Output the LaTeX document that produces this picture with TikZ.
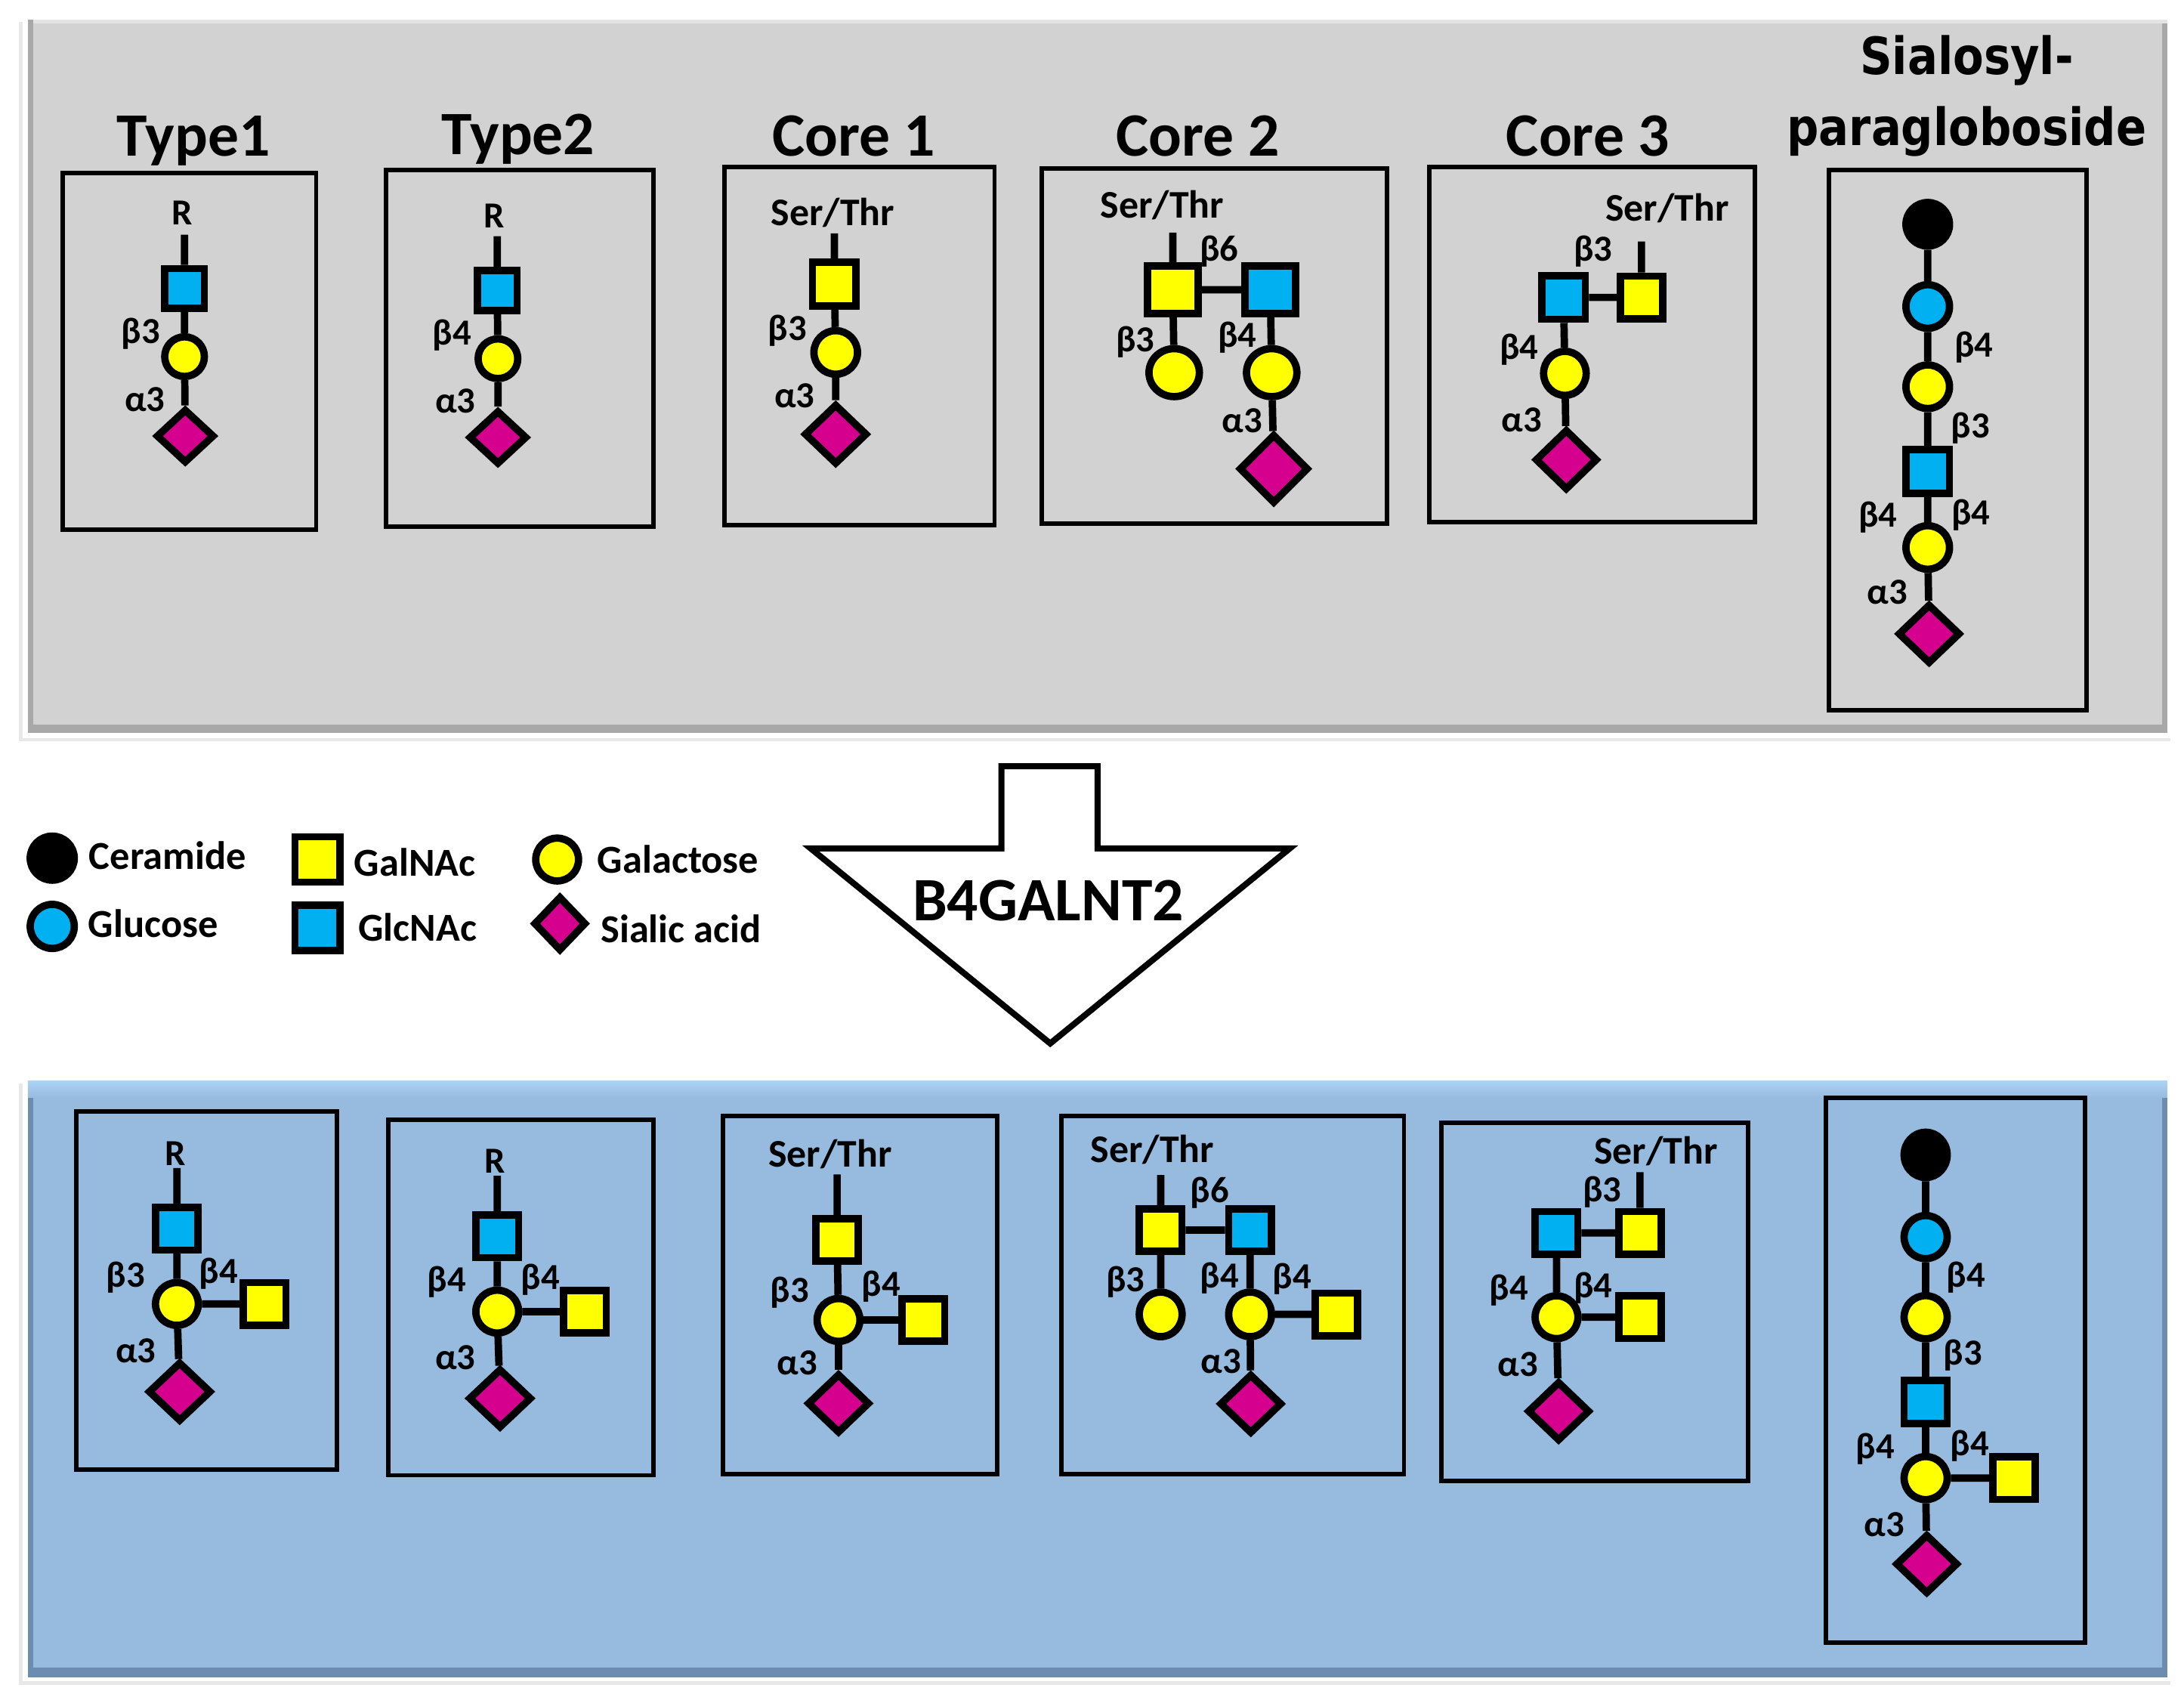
\documentclass[tikz,border=0pt]{standalone}
\usepackage{fontspec}
\setmainfont{Carlito}
\newfontfamily\verdana{DejaVu Sans}
\usetikzlibrary{shapes.geometric}
\definecolor{galyellow}{RGB}{255,255,0}
\definecolor{glcblue}{RGB}{0,176,240}
\definecolor{siapink}{RGB}{214,0,143}
\definecolor{panelgray}{RGB}{210,210,210}
\definecolor{panelgrayrim}{RGB}{168,168,168}
\definecolor{panelgraytop}{RGB}{228,228,228}
\definecolor{panelblue}{RGB}{150,187,222}
\definecolor{panelbluerim}{RGB}{108,140,178}
\definecolor{panelbluetop}{RGB}{172,210,245}
\definecolor{shine}{RGB}{232,232,232}
\begin{document}
\begin{tikzpicture}[x=0.02cm,y=-0.02cm]

    \tikzset{
      res/.style={draw, line width=3pt, inner sep=0pt},
      gal/.style={res, ellipse, fill=galyellow, minimum width=#1, minimum height=#1},
      glc/.style={res, ellipse, fill=glcblue, minimum width=#1, minimum height=#1},
      cer/.style={res, ellipse, fill=black, minimum width=#1, minimum height=#1},
      galnac/.style={res, rectangle, fill=galyellow, minimum width=#1, minimum height=#1},
      glcnac/.style={res, rectangle, fill=glcblue, minimum width=#1, minimum height=#1},
      sia/.style={res, diamond, fill=siapink, minimum width=#1, minimum height=#1},
      link/.style={line width=3pt},
      lbl/.style={font=\fontsize{15}{18}\selectfont\bfseries, inner sep=0pt, text height=9.5pt, text depth=0pt},
      aglyc/.style={font=\fontsize{16}{19}\selectfont\bfseries, inner sep=0pt, text height=10.1pt, text depth=0pt},
      heading/.style={font=\fontsize{25.2}{30}\selectfont\bfseries, inner sep=0pt, text height=15.9pt, text depth=0pt},
      sialhead/.style={font=\verdana\fontsize{21}{25}\selectfont\bfseries, inner sep=0pt, text height=15.3pt, text depth=0pt},
      legendtxt/.style={font=\fontsize{16.2}{19}\selectfont\bfseries, anchor=west, inner sep=0pt, text height=10.2pt, text depth=0pt},
      glybox/.style={line width=1.8pt},
    }
    \useasboundingbox (0,0) rectangle (1568,1216);

    % panels
    \draw[shine, line width=1.5pt] (15,16) -- (15,531) -- (1558,531);
    \fill[panelgrayrim] (20,14) rectangle (1556,526);
    \fill[panelgray] (24,17) rectangle (1552,520);
    \fill[panelgraytop] (24,14) rectangle (1556,17);
    \draw[shine, line width=1.5pt] (15,778) -- (15,1208) -- (1558,1208);
    \fill[panelbluerim] (20,776) rectangle (1556,1204);
    \fill[panelblue] (24,780) rectangle (1552,1197);
    \shade[top color=panelbluetop, bottom color=panelblue] (20,776) rectangle (1556,788);

    % Type1
    \node[heading] (t1head) at (139,98) {Type1};
    \draw[glybox] (45,124) rectangle (227,380);
    \node[lbl] (t1R) at (131,153) {R};
    \coordinate (t1top) at (132.5,168.5);
    \node[glcnac=16.2pt] (t1gn) at (132.5,207) {};
    \node[gal=16.2pt] (t1gal) at (132.5,256) {};
    \node[sia=23.9pt, minimum height=22.2pt] (t1sia) at (133,313) {};
    \node[lbl] (t1b3) at (101,238) {β3};
    \node[lbl] (t1a3) at (104,287) {α3};
    \draw[link] (t1top) -- (t1gn) (t1gn) -- (t1gal) (t1gal) -- (t1sia);

    % Type2
    \node[heading] (t2head) at (372,97) {Type2};
    \draw[glybox] (277,122) rectangle (469,378);
    \node[lbl] (t2R) at (355,155) {R};
    \coordinate (t2top) at (357,169.5);
    \node[glcnac=16.2pt] (t2gn) at (357,208.5) {};
    \node[gal=16.2pt] (t2gal) at (357.5,257.5) {};
    \node[sia=23.9pt, minimum height=22.2pt] (t2sia) at (357.5,314) {};
    \node[lbl] (t2b4) at (324.5,239) {β4};
    \node[lbl] (t2a3) at (327,288) {α3};
    \draw[link] (t2top) -- (t2gn) (t2gn) -- (t2gal) (t2gal) -- (t2sia);

    % Core 1
    \node[heading] (c1head) at (613,98) {Core 1};
    \draw[glybox] (520,120) rectangle (714,377);
    \node[aglyc] (c1st) at (598,153) {Ser/Thr};
    \coordinate (c1top) at (599,167.5);
    \node[galnac=17.8pt] (c1gn) at (599,204) {};
    \node[gal=17.8pt] (c1gal) at (600,253) {};
    \node[sia=25.9pt, minimum height=24.8pt] (c1sia) at (600,311.7) {};
    \node[lbl] (c1b3) at (565.4,236) {β3};
    \node[lbl] (c1a3) at (570.4,284.2) {α3};
    \draw[link] (c1top) -- (c1gn) (c1gn) -- (c1gal) (c1gal) -- (c1sia);

    % Core 2
    \node[heading] (c2head) at (860,98) {Core 2};
    \draw[glybox] (748,121) rectangle (996,376);
    \node[aglyc] (c2st) at (834.4,147.8) {Ser/Thr};
    \coordinate (c2top) at (842,167);
    \node[galnac=20.6pt, minimum height=19.3pt] (c2gn) at (842,208) {};
    \node[glcnac=20.6pt, minimum height=19.3pt] (c2gl) at (912,208) {};
    \node[gal=20.6pt, minimum height=19.6pt] (c2galL) at (843,267.5) {};
    \node[gal=20.6pt, minimum height=19.6pt] (c2galR) at (913,267.5) {};
    \node[sia=28.5pt] (c2sia) at (914.5,336.5) {};
    \node[lbl] (c2b6) at (875.4,179) {β6};
    \node[lbl] (c2b3) at (815,244) {β3};
    \node[lbl] (c2b4) at (888.4,241) {β4};
    \node[lbl] (c2a3) at (891.7,302.4) {α3};
    \draw[link] (c2top) -- (c2gn) (c2gn) -- (c2gl) (c2gn) -- (c2galL)
      (c2gl) -- (c2galR) (c2galR) -- (c2sia);

    % Core 3
    \node[heading] (c3head) at (1140,98) {Core 3};
    \draw[glybox] (1026,120) rectangle (1260,375);
    \node[aglyc] (c3st) at (1197,150) {Ser/Thr};
    \coordinate (c3top) at (1178.5,173.3);
    \node[galnac=17.4pt] (c3gn) at (1178.5,213.5) {};
    \node[glcnac=17.8pt] (c3gl) at (1122.5,213.5) {};
    \node[gal=17.4pt, minimum height=18pt] (c3gal) at (1123.5,268) {};
    \node[sia=25.6pt, minimum height=24.9pt] (c3sia) at (1124.5,330) {};
    \node[lbl] (c3b3) at (1143.7,179) {β3};
    \node[lbl] (c3b4) at (1090.7,249.5) {β4};
    \node[lbl] (c3a3) at (1092.4,301.4) {α3};
    \draw[link] (c3top) -- (c3gn) (c3gn) -- (c3gl) (c3gl) -- (c3gal) (c3gal) -- (c3sia);

    % Sialosylparagloboside
    \node[sialhead] (sphead1) at (1412,40) {\scalebox{0.87}[1]{Sialosyl-}};
    \node[sialhead] (sphead2) at (1412,91) {\scalebox{0.87}[1]{paragloboside}};
    \draw[glybox] (1313,122) rectangle (1498,510);
    \node[cer=17.8pt] (spcer) at (1384,161) {};
    \node[glc=17.8pt] (spglc) at (1384,220) {};
    \node[gal=17.8pt] (spgal) at (1384,277.6) {};
    \node[glcnac=17.8pt] (spgn) at (1384,338.5) {};
    \node[gal=17.8pt] (spgal2) at (1384,393) {};
    \node[sia=25.6pt, minimum height=24.5pt] (spsia) at (1385,455) {};
    \node[lbl] (spb4a) at (1417,248) {β4};
    \node[lbl] (spb3) at (1414.6,306) {β3};
    \node[lbl] (spb4b) at (1348.3,370) {β4};
    \node[lbl] (spb4c) at (1415,368.5) {β4};
    \node[lbl] (spa3) at (1355,425.5) {α3};
    \draw[link] (spcer) -- (spglc) (spglc) -- (spgal) (spgal) -- (spgn)
      (spgn) -- (spgal2) (spgal2) -- (spsia);

    % legend
    \node[cer=18pt] (kcer) at (37.5,616) {};
    \node[glc=18pt] (kglc) at (37.5,665) {};
    \node[galnac=18.5pt] (kgn) at (228,617) {};
    \node[glcnac=18.5pt] (kgl) at (228,666) {};
    \node[gal=17.5pt] (kgal) at (400,617) {};
    \node[sia=21.6pt, minimum height=22.5pt] (ksia) at (402,663) {};
    \node[legendtxt] (kcertxt) at (63.6,615) {Ceramide};
    \node[legendtxt] (kglctxt) at (63,664) {Glucose};
    \node[legendtxt] (kgntxt) at (254,620) {GalNAc};
    \node[legendtxt] (kgltxt) at (257,666.7) {GlcNAc};
    \node[legendtxt] (kgaltxt) at (428.6,617.5) {Galactose};
    \node[legendtxt] (ksiatxt) at (431,667.6) {Sialic acid};

    % enzyme arrow
    \draw[line width=2.5pt, fill=white, line join=miter] (719,550) -- (788,550) -- (788,609)
      -- (926,609) -- (754,749) -- (582,609) -- (719,609) -- cycle;
    \node[heading] (enz) at (752.5,647) {B4GALNT2};

    % bottom 1
    \draw[glybox] (55,798) rectangle (242,1055);
    \node[lbl] (b1R) at (126,828) {R};
    \coordinate (b1top) at (127,838.5);
    \node[glcnac=17.4pt] (b1gn) at (127,882) {};
    \node[gal=17.5pt] (b1gal) at (127,936) {};
    \node[galnac=17.4pt] (b1gnR) at (190,936) {};
    \node[sia=25.9pt, minimum height=24.5pt] (b1sia) at (129,999) {};
    \node[lbl] (b1b3) at (90.3,915.6) {β3};
    \node[lbl] (b1b4) at (157,912.7) {β4};
    \node[lbl] (b1a3) at (97.5,969.6) {α3};
    \draw[link] (b1top) -- (b1gn) (b1gn) -- (b1gal) (b1gal) -- (b1gnR) (b1gal) -- (b1sia);

    % bottom 2
    \draw[glybox] (279,804) rectangle (469,1059);
    \node[lbl] (b2R) at (355.6,833.7) {R};
    \coordinate (b2top) at (357,844);
    \node[glcnac=17.4pt] (b2gn) at (357,887.5) {};
    \node[gal=17.5pt] (b2gal) at (357,941.5) {};
    \node[galnac=17.4pt] (b2gnR) at (420,941.5) {};
    \node[sia=25.9pt, minimum height=24.5pt] (b2sia) at (359,1003.8) {};
    \node[lbl] (b2b4a) at (320.7,919) {β4};
    \node[lbl] (b2b4b) at (388,917) {β4};
    \node[lbl] (b2a3) at (327,974.8) {α3};
    \draw[link] (b2top) -- (b2gn) (b2gn) -- (b2gal) (b2gal) -- (b2gnR) (b2gal) -- (b2sia);

    % bottom 3
    \draw[glybox] (519,801) rectangle (716,1058);
    \node[aglyc] (b3st) at (596,829) {Ser/Thr};
    \coordinate (b3top) at (601,843);
    \node[galnac=17.4pt] (b3gn) at (601,890) {};
    \node[gal=17.5pt] (b3gal) at (602,947.5) {};
    \node[galnac=17.4pt] (b3gnR) at (663,947.5) {};
    \node[sia=25.6pt, minimum height=24.5pt] (b3sia) at (602,1007.4) {};
    \node[lbl] (b3b3) at (567,926.5) {β3};
    \node[lbl] (b3b4) at (632.7,922.3) {β4};
    \node[lbl] (b3a3) at (572.2,978.3) {α3};
    \draw[link] (b3top) -- (b3gn) (b3gn) -- (b3gal) (b3gal) -- (b3gnR) (b3gal) -- (b3sia);

    % bottom 4
    \draw[glybox] (762,801) rectangle (1008,1058);
    \node[aglyc] (b4st) at (827.4,825.7) {Ser/Thr};
    \coordinate (b4top) at (833.3,843.4);
    \node[galnac=17.4pt] (b4gn) at (833.3,883) {};
    \node[glcnac=17.4pt] (b4gl) at (897.5,883) {};
    \node[gal=17.5pt, minimum height=18.2pt] (b4galL) at (833.3,943.5) {};
    \node[gal=17.5pt, minimum height=18.2pt] (b4galR) at (897.5,943.5) {};
    \node[galnac=17.4pt] (b4gnR) at (959.4,943.5) {};
    \node[sia=25.6pt, minimum height=24.5pt] (b4sia) at (898,1007.7) {};
    \node[lbl] (b4b6) at (868.6,854.8) {β6};
    \node[lbl] (b4b3) at (808,919) {β3};
    \node[lbl] (b4b4a) at (875.5,916) {β4};
    \node[lbl] (b4b4b) at (927.5,916.4) {β4};
    \node[lbl] (b4a3) at (876.6,977.2) {α3};
    \draw[link] (b4top) -- (b4gn) (b4gn) -- (b4gl) (b4gn) -- (b4galL) (b4gl) -- (b4galR)
      (b4galR) -- (b4gnR) (b4galR) -- (b4sia);

    % bottom 5
    \draw[glybox] (1035,806) rectangle (1255,1063);
    \node[aglyc] (b5st) at (1188.8,826.9) {Ser/Thr};
    \coordinate (b5top) at (1177.4,841.4);
    \node[galnac=17.4pt] (b5gn) at (1177.4,885) {};
    \node[glcnac=17.4pt] (b5gl) at (1117.5,885) {};
    \node[gal=17.5pt] (b5gal) at (1117.5,945.5) {};
    \node[galnac=17.4pt] (b5gnR) at (1177.4,945.5) {};
    \node[sia=25.6pt, minimum height=24.5pt] (b5sia) at (1119,1013) {};
    \node[lbl] (b5b3) at (1150.3,854.4) {β3};
    \node[lbl] (b5b4a) at (1083.3,925) {β4};
    \node[lbl] (b5b4b) at (1143.8,923) {β4};
    \node[lbl] (b5a3) at (1089.8,979.8) {α3};
    \draw[link] (b5top) -- (b5gn) (b5gn) -- (b5gl) (b5gl) -- (b5gal) (b5gal) -- (b5gnR) (b5gal) -- (b5sia);

    % bottom 6
    \draw[glybox] (1311,788) rectangle (1497,1179);
    \node[cer=17.6pt, minimum height=18.5pt] (b6cer) at (1382.5,829) {};
    \node[glc=17.6pt] (b6glc) at (1382.5,888) {};
    \node[gal=17.6pt] (b6gal) at (1382.5,945.5) {};
    \node[glcnac=17.6pt] (b6gn) at (1382.5,1006.5) {};
    \node[gal=17.6pt] (b6gal2) at (1382.5,1061) {};
    \node[galnac=17.4pt] (b6gnR) at (1446,1061) {};
    \node[sia=25.6pt, minimum height=24.5pt] (b6sia) at (1383.3,1122.7) {};
    \node[lbl] (b6b4a) at (1411.4,915.6) {β4};
    \node[lbl] (b6b3) at (1409.2,971.5) {β3};
    \node[lbl] (b6b4b) at (1346.2,1038.5) {β4};
    \node[lbl] (b6b4c) at (1414,1036.5) {β4};
    \node[lbl] (b6a3) at (1352.7,1094.3) {α3};
    \draw[link] (b6cer) -- (b6glc) (b6glc) -- (b6gal) (b6gal) -- (b6gn) (b6gn) -- (b6gal2)
      (b6gal2) -- (b6gnR) (b6gal2) -- (b6sia);

\end{tikzpicture}
\end{document}
